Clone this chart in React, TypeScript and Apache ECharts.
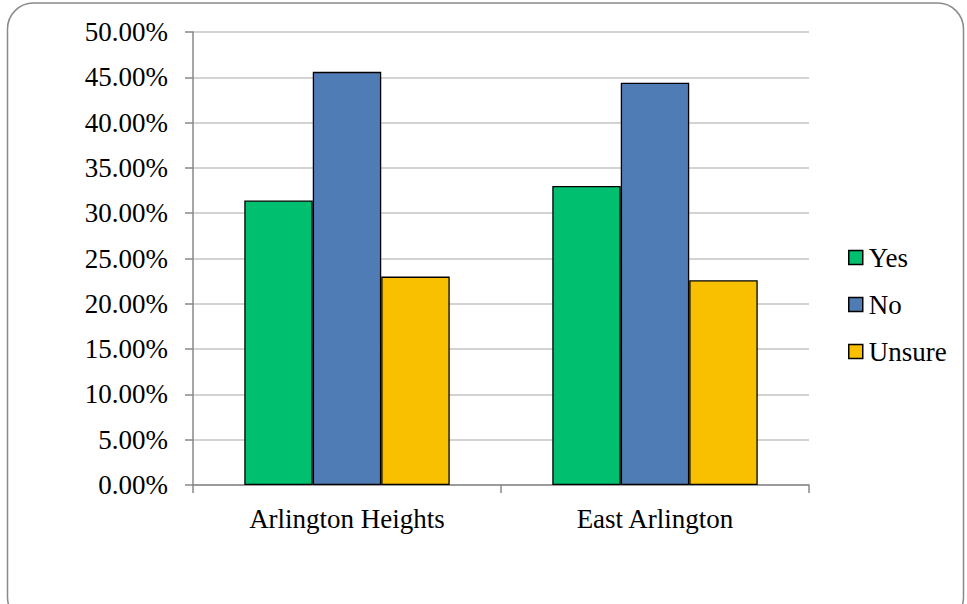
import React, { useEffect, useRef } from "react";
import * as echarts from "echarts";

const categories = ["Arlington Heights", "East Arlington"];
const seriesNames = ["Yes", "No", "Unsure"];
const yesValues = [31.4, 33.0];
const noValues = [45.6, 44.4];
const unsureValues = [23.0, 22.6];
const colors = ["#00BF6F", "#4F7CB5", "#F9C000"];

const FONT = "'Liberation Serif', 'DejaVu Serif', serif";

export default function App() {
  const ref = useRef<HTMLDivElement>(null);
  useEffect(() => {
    if (!ref.current) return;
    const chart = echarts.init(ref.current, null, { renderer: "svg" });
    const values = [yesValues, noValues, unsureValues];
    chart.setOption({
      animation: false,
      backgroundColor: "#ffffff",
      textStyle: { fontFamily: FONT },
      graphic: [
        {
          type: "rect",
          shape: { x: 7.5, y: 3, width: 956, height: 620, r: 26 },
          style: { fill: "none", stroke: "#8a8a8a", lineWidth: 1.5 },
          silent: true,
        },
      ],
      grid: { left: 193, right: 158, top: 32, bottom: 119, containLabel: false },
      legend: {
        orient: "vertical",
        left: 843,
        top: 239,
        itemWidth: 14,
        itemHeight: 14,
        itemGap: 20,
        icon: "rect",
        itemStyle: { borderColor: "#000", borderWidth: 1.5 },
        textStyle: { fontFamily: FONT, fontSize: 27, color: "#000", lineHeight: 27, padding: [0, 0, 0, 1] },
        data: seriesNames,
      },
      xAxis: {
        type: "category",
        data: categories,
        boundaryGap: true,
        axisLine: { show: true, lineStyle: { color: "#888", width: 1.5 } },
        axisTick: { show: true, length: 8, alignWithLabel: false, lineStyle: { color: "#888", width: 1.5 } },
        axisLabel: { fontFamily: FONT, fontSize: 27, color: "#000", margin: 20 },
      },
      yAxis: {
        type: "value",
        min: 0,
        max: 50,
        interval: 5,
        axisLine: { show: true, lineStyle: { color: "#888", width: 1.5 } },
        axisTick: { show: true, length: 8, lineStyle: { color: "#888", width: 1.5 } },
        splitLine: { show: true, lineStyle: { color: "#c4c4c4", width: 1.5 } },
        axisLabel: {
          fontFamily: FONT,
          fontSize: 27,
          color: "#000",
          margin: 25,
          formatter: (v: number) => v.toFixed(2) + "%",
        },
      },
      series: seriesNames.map((name, i) => ({
        name,
        type: "bar",
        data: values[i],
        barGap: "0%",
        barCategoryGap: "33.3%",
        itemStyle: { color: colors[i], borderColor: "#000", borderWidth: 1.3 },
      })),
    });
    return () => chart.dispose();
  }, []);
  return (
    <div
      ref={ref}
      style={{ position: "absolute", left: 0, top: 0, width: 967, height: 604 }}
    />
  );
}
